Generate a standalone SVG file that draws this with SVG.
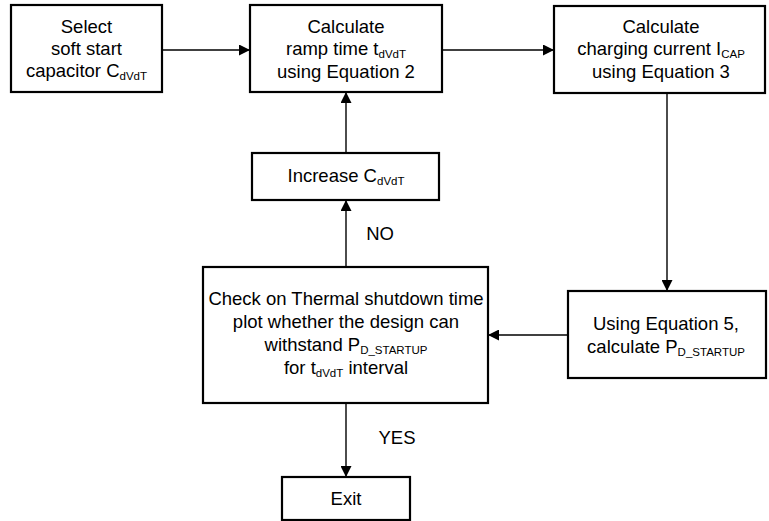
<svg xmlns="http://www.w3.org/2000/svg" width="769" height="521" viewBox="0 0 769 521">
<defs>
<marker id="ah" markerWidth="11" markerHeight="11" refX="11" refY="5.5" orient="auto" markerUnits="userSpaceOnUse">
<path d="M0,0 L11,5.5 L0,11 Z" fill="#000"/>
</marker>
<style>
.box{fill:#fff;stroke:#000;stroke-width:2.2}
.t{font-family:"Liberation Sans",Arial,sans-serif;font-size:18.5px;fill:#000;text-anchor:middle}
.s{font-size:11.5px}
.c{stroke:#000;stroke-width:1.4;fill:none;marker-end:url(#ah)}
</style>
</defs>
<rect width="769" height="521" fill="#fff"/>
<g id="connectors">
<line class="c" x1="162" y1="50" x2="250" y2="50"/>
<line class="c" x1="442" y1="50" x2="554" y2="50"/>
<line class="c" x1="667" y1="93" x2="667" y2="291"/>
<line class="c" x1="568" y1="335" x2="488" y2="335"/>
<line class="c" x1="346" y1="267" x2="346" y2="200"/>
<line class="c" x1="346" y1="153" x2="346" y2="92"/>
<line class="c" x1="346" y1="403" x2="346" y2="477"/>
<text class="t" x="380" y="240">NO</text>
<text class="t" x="397" y="444">YES</text>
</g>
<g id="select">
<rect class="box" x="11" y="5" width="151" height="87"/>
<text class="t" x="86.5" y="33">Select</text>
<text class="t" x="86.5" y="55">soft start</text>
<text class="t" x="86.5" y="77">capacitor C<tspan class="s" dy="3">dVdT</tspan></text>
</g>
<g id="ramp">
<rect class="box" x="250" y="5" width="192" height="87"/>
<text class="t" x="346" y="33">Calculate</text>
<text class="t" x="346" y="55">ramp time t<tspan class="s" dy="3">dVdT</tspan></text>
<text class="t" x="346" y="78">using Equation 2</text>
</g>
<g id="current">
<rect class="box" x="554" y="6" width="211" height="87"/>
<text class="t" x="661" y="33">Calculate</text>
<text class="t" x="661" y="55">charging current I<tspan class="s" dy="3">CAP</tspan></text>
<text class="t" x="661" y="78">using Equation 3</text>
</g>
<g id="increase">
<rect class="box" x="252" y="153" width="187" height="47"/>
<text class="t" x="346" y="182">Increase C<tspan class="s" dy="3">dVdT</tspan></text>
</g>
<g id="power">
<rect class="box" x="568" y="291" width="198" height="87"/>
<text class="t" x="666" y="330">Using Equation 5,</text>
<text class="t" x="666" y="353">calculate P<tspan class="s" dy="3">D_STARTUP</tspan></text>
</g>
<g id="check">
<rect class="box" x="203" y="267" width="285" height="136"/>
<text class="t" x="346" y="305">Check on Thermal shutdown time</text>
<text class="t" x="346" y="328">plot whether the design can</text>
<text class="t" x="346" y="351">withstand P<tspan class="s" dy="3">D_STARTUP</tspan></text>
<text class="t" x="346" y="374">for t<tspan class="s" dy="3">dVdT</tspan><tspan dy="-3"> interval</tspan></text>
</g>
<g id="exit">
<rect class="box" x="282" y="477" width="128" height="43"/>
<text class="t" x="346" y="505">Exit</text>
</g>
</svg>
